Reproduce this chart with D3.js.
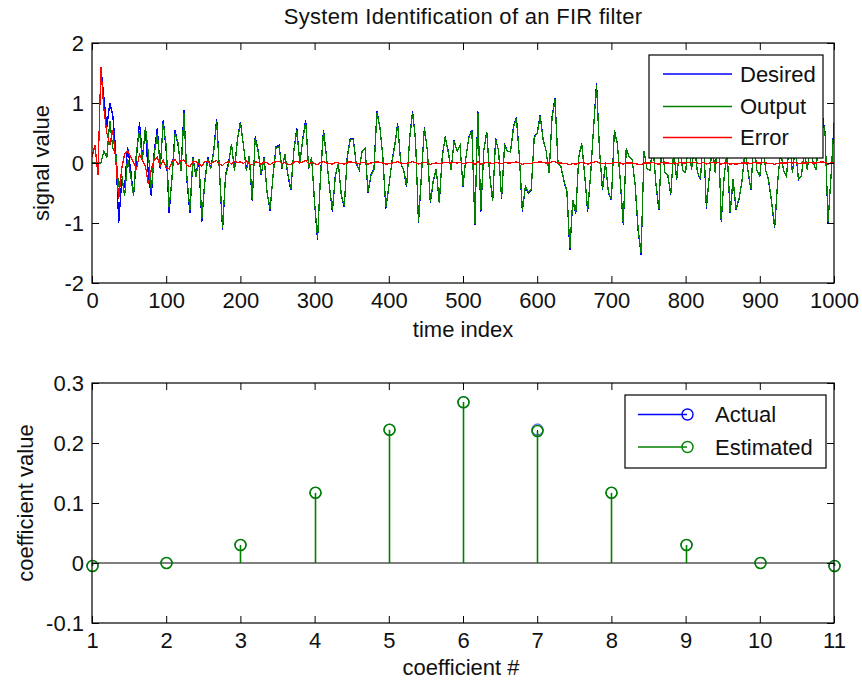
<!DOCTYPE html>
<html>
<head>
<meta charset="utf-8">
<script src="https://cdn.jsdelivr.net/npm/d3@7"></script>
<style>
  html, body { margin: 0; padding: 0; background: #fff; }
  svg { display: block; font-family: "Liberation Sans", Arial, sans-serif; }
  .tick text { font-size: 22px; fill: #111; }
  .tick line { stroke: #000; }
</style>
</head>
<body>
<svg id="chart" width="862" height="686"></svg>
<script>
// ---------------- DATA ----------------
const chartTitle = "System Identification of an FIR filter";
const timeStep = 4; // samples read every 4 time indices (0..1000)
const desired = [
  0.1, 0.3, -0.2, 1.6, 1.1, 0.6, 1.0, 0.8, 0.2, -1.0, -0.3, -0.4, 0.27, -0.1, -0.55, 0.1, 0.68, 0.1, 0.55, -0.2, -0.55, 0.2, 0.58, -0.1, 0.72,
  0.2, -0.84, -0.2, 0.55, 0.3, -0.1, 0.88, -0.3, -0.84, 0.1, -0.2, 0.05, -0.98, -0.3, 0.1, -0.1, 0.2, 0.74, -0.2, -1.12, -0.2, 0.0, 0.3, -0.1, 0.4,
  0.69, 0.3, -0.1, 0.1, -0.64, 0.44, 0.2, -0.2, 0.1, -0.5, -0.8, -0.2, 0.27, 0.3, -0.1, 0.15, -0.2, -0.45, 0.2, 0.58, 0.0, 0.4, 0.72, -0.1, 0.1,
  -0.67, -1.28, -0.2, 0.55, 0.1, -0.4, -0.81, -0.2, 0.0, -0.55, -0.73, 0.1, 0.41, 0.4, 0.0, -0.12, 0.2, 0.25, -0.5, -0.2, -0.1, 0.86, 0.6, 0.1, -0.76,
  -0.4, 0.0, 0.3, 0.66, 0.0, -0.12, -0.4, 0.4, 0.86, 0.4, -1.0, -0.2, 0.6, 0.2, -0.67, -0.3, -0.1, -0.67, 0.1, 0.44, 0.2, -0.12, 0.38, 0.2, 0.3,
  -0.4, 0.1, 0.44, 0.55, -1.03, 0.86, -0.81, 0.2, 0.52, -0.2, -0.64, 0.41, 0.2, -0.6, 0.3, 0.2, 0.18, 0.6, 0.77, 0.1, -0.81, -0.4, -0.5, -0.45, 0.44,
  0.5, 0.8, 0.4, 0.2, -0.17, 0.77, 1.08, 0.0, -0.06, -0.3, -0.48, -1.45, -0.62, -0.85, 0.1, 0.33, -0.2, -0.81, -0.2, 0.6, 1.33, 0.2, -0.45, 0.0, -0.5,
  -0.62, 0.55, 0.33, -0.3, -1.03, 0.24, 0.1, 0.05, -0.37, -1.12, -1.53, 0.2, -0.1, -0.12, 0.3, -0.35, -0.78, 0.4, -0.15, -0.2, -0.53, 0.2, -0.28, 0.3, -0.12,
  -0.16, 0.4, -0.12, 0.3, -0.16, -0.28, 0.5, -0.76, -0.22, 0.3, -0.17, 0.6, -0.98, -0.22, 0.2, -0.84, -0.28, -0.78, -0.6, -0.3, 0.2, -0.12, -0.45, 0.4, -0.12,
  -0.22, 0.3, -0.12, -0.3, -0.67, -1.09, -0.33, 0.2, -0.12, -0.22, 0.4, -0.17, 0.3, -0.28, -0.22, 0.2, -0.12, 0.3, 0.0, -0.12, 0.6, 0.83, 0.5, -1.0, -0.22,
  0.66
];
const errorSig = [
  0.1, 0.3, -0.2, 1.6, 0.9, 0.5, 0.3, 0.55, 0.05, -0.6, -0.1, 0.15, 0.2, 0.1, 0.0, -0.1, 0.15, 0.05, -0.05, -0.35, -0.1, 0.05, 0.1, -0.05, 0.05,
  -0.08, -0.1, 0.03, 0.06, -0.03, 0.04, 0.05, -0.04, -0.06, 0.02, 0.03, -0.02, -0.05, 0.02, 0.03, -0.01, 0.02, 0.04, -0.02, -0.04, 0.01, 0.02, -0.02, 0.03, 0.01,
  0.02, -0.01, 0.03, -0.02, -0.03, 0.02, 0.01, -0.02, 0.02, 0.0, -0.03, 0.01, 0.02, 0.03, -0.01, 0.01, -0.02, -0.02, 0.01, 0.03, 0.0, 0.02, 0.04, -0.01, 0.01,
  -0.01, -0.03, 0.01, 0.02, 0.0, -0.01, -0.02, 0.01, 0.0, -0.01, -0.02, 0.01, 0.02, 0.01, 0.0, -0.01, 0.01, 0.01, -0.02, 0.0, 0.01, 0.02, 0.01, 0.0, -0.02,
  -0.01, 0.0, 0.01, 0.02, 0.0, -0.01, -0.01, 0.01, 0.02, 0.01, -0.02, 0.0, 0.01, 0.0, -0.02, -0.01, 0.0, -0.01, 0.0, 0.01, 0.01, 0.0, 0.01, 0.0, 0.01,
  -0.01, 0.0, 0.01, 0.01, -0.02, 0.02, -0.02, 0.0, 0.01, 0.0, -0.01, 0.01, 0.0, -0.01, 0.01, 0.0, 0.0, 0.01, 0.02, 0.0, -0.02, -0.01, -0.01, -0.01, 0.01,
  0.01, 0.02, 0.01, 0.0, 0.0, 0.02, 0.02, 0.0, 0.0, -0.01, -0.01, -0.03, -0.01, -0.02, 0.0, 0.01, 0.0, -0.02, 0.0, 0.01, 0.03, 0.0, -0.01, 0.0, -0.01,
  -0.01, 0.01, 0.01, 0.0, -0.02, 0.0, 0.0, 0.0, -0.01, -0.02, -0.03, 0.0, 0.0, 0.0, 0.01, -0.01, -0.02, 0.01, 0.0, 0.0, -0.01, 0.0, -0.01, 0.01, 0.0,
  0.0, 0.01, 0.0, 0.01, 0.0, -0.01, 0.01, -0.02, 0.0, 0.01, 0.0, 0.01, -0.02, 0.0, 0.0, -0.02, -0.01, -0.02, -0.01, 0.0, 0.0, 0.0, -0.01, 0.01, 0.0,
  0.0, 0.01, 0.0, -0.01, -0.01, -0.02, -0.01, 0.0, 0.0, 0.0, 0.01, 0.0, 0.01, -0.01, 0.0, 0.0, 0.0, 0.01, 0.0, 0.0, 0.01, 0.02, 0.01, -0.02, 0.0,
  0.01
];
const topXTicks = [0, 100, 200, 300, 400, 500, 600, 700, 800, 900, 1000];
const topYTicks = [-2, -1, 0, 1, 2];
const topLegend = ["Desired", "Output", "Error"];

const coefIndex = [1, 2, 3, 4, 5, 6, 7, 8, 9, 10, 11];
const coefActual    = [-0.005, 0.0, 0.03, 0.117, 0.222, 0.268, 0.2225, 0.117, 0.03, 0.0, -0.005];
const coefEstimated = [-0.005, 0.0, 0.03, 0.117, 0.222, 0.268, 0.220, 0.117, 0.03, 0.0, -0.005];
const botXTicks = [1, 2, 3, 4, 5, 6, 7, 8, 9, 10, 11];
const botYTicks = [-0.1, 0, 0.1, 0.2, 0.3];
const botLegend = ["Actual", "Estimated"];

const colors = { desired: "#0000ff", output: "#008000", error: "#ff0000" };

// ---------------- DRAW ----------------
const svg = d3.select("#chart");
const FONT = 22;
const hyphen = s => String(s).replace("\u2212", "-");
const fmtInt = d => hyphen(d3.format("d")(d));
const fmtDec = d => d === 0 ? "0" : hyphen(d3.format(".1f")(d));

function frameAxes(g, x, y, xTicks, yTicks, xFmt, yFmt, x0, x1, y0, y1) {
  const TL = 7;
  g.append("g").attr("transform", `translate(0,${y0})`)
    .call(d3.axisBottom(x).tickValues(xTicks).tickSize(-TL).tickPadding(9).tickFormat(xFmt))
    .call(s => s.select(".domain").remove());
  g.append("g").attr("transform", `translate(0,${y1})`)
    .call(d3.axisTop(x).tickValues(xTicks).tickSize(-TL).tickFormat(""))
    .call(s => s.select(".domain").remove());
  g.append("g").attr("transform", `translate(${x0},0)`)
    .call(d3.axisLeft(y).tickValues(yTicks).tickSize(-TL).tickPadding(8).tickFormat(yFmt))
    .call(s => s.select(".domain").remove());
  g.append("g").attr("transform", `translate(${x1},0)`)
    .call(d3.axisRight(y).tickValues(yTicks).tickSize(-TL).tickFormat(""))
    .call(s => s.select(".domain").remove());
  g.selectAll(".tick line").attr("stroke", "#000").attr("stroke-width", 1);
  g.append("rect").attr("x", x0).attr("y", y1).attr("width", x1 - x0).attr("height", y0 - y1)
    .attr("fill", "none").attr("stroke", "#000").attr("stroke-width", 1.2);
}

// ===== Top panel =====
const T = { x0: 92, x1: 834, y0: 283, y1: 43 };
const xT = d3.scaleLinear().domain([0, 1000]).range([T.x0, T.x1]);
const yT = d3.scaleLinear().domain([-2, 2]).range([T.y0, T.y1]);

const tIdx = desired.map((_, i) => i * timeStep);
const output = desired.map((d, i) => +(d - errorSig[i]).toFixed(3));

svg.append("clipPath").attr("id", "clipTop").append("rect")
  .attr("x", T.x0).attr("y", T.y1).attr("width", T.x1 - T.x0).attr("height", T.y0 - T.y1);

const gTop = svg.append("g");
const lineT = d3.line().x((d, i) => xT(tIdx[i])).y(d => yT(d));
const series = [
  { vals: desired, color: colors.desired, w: 1.3 },
  { vals: output, color: colors.output, w: 1.3 },
  { vals: errorSig, color: colors.error, w: 1.3 }
];
const gLines = gTop.append("g").attr("clip-path", "url(#clipTop)");
series.forEach(s => {
  gLines.append("path").datum(s.vals).attr("d", lineT)
    .attr("fill", "none").attr("stroke", s.color).attr("stroke-width", s.w)
    .attr("shape-rendering", "crispEdges");
});

frameAxes(gTop, xT, yT, topXTicks, topYTicks, fmtInt, fmtInt, T.x0, T.x1, T.y0, T.y1);

gTop.append("text").attr("x", 463).attr("y", 24).attr("text-anchor", "middle")
  .attr("font-size", FONT).attr("letter-spacing", 0.3).attr("fill", "#111").text(chartTitle);
gTop.append("text").attr("x", 463).attr("y", 337).attr("text-anchor", "middle")
  .attr("font-size", FONT).attr("fill", "#111").text("time index");
gTop.append("text").attr("transform", `translate(49,${(T.y0 + T.y1) / 2}) rotate(-90)`)
  .attr("text-anchor", "middle").attr("font-size", FONT).attr("fill", "#111").text("signal value");

// legend top
const LT = { x: 649, y: 55, w: 174, h: 103 };
const gLegT = gTop.append("g");
gLegT.append("rect").attr("x", LT.x).attr("y", LT.y).attr("width", LT.w).attr("height", LT.h)
  .attr("fill", "#fff").attr("stroke", "#000").attr("stroke-width", 1.2);
const legRowsT = [74, 106.5, 137.5];
topLegend.forEach((name, i) => {
  const c = [colors.desired, colors.output, colors.error][i];
  gLegT.append("line").attr("x1", 663).attr("x2", 732).attr("y1", legRowsT[i]).attr("y2", legRowsT[i])
    .attr("stroke", c).attr("stroke-width", 1.5);
  gLegT.append("text").attr("x", 740).attr("y", legRowsT[i]).attr("dy", "0.36em")
    .attr("font-size", FONT).attr("fill", "#111").text(name);
});

// ===== Bottom panel =====
const B = { x0: 92, x1: 834, y0: 623, y1: 383 };
const xB = d3.scaleLinear().domain([1, 11]).range([B.x0, B.x1]);
const yB = d3.scaleLinear().domain([-0.1, 0.3]).range([B.y0, B.y1]);
const gBot = svg.append("g");

// baseline
gBot.append("line").attr("x1", xB(1)).attr("x2", xB(11)).attr("y1", yB(0)).attr("y2", yB(0))
  .attr("stroke", "#000").attr("stroke-width", 1.2);

const snap = v => Math.round(v) + 0.5;
function stems(vals, color, sw, cw, crisp) {
  const g = gBot.append("g");
  g.selectAll("line.stem").data(vals).join("line").attr("class", "stem")
    .attr("x1", (d, i) => snap(xB(coefIndex[i]))).attr("x2", (d, i) => snap(xB(coefIndex[i])))
    .attr("y1", yB(0)).attr("y2", d => yB(d))
    .attr("stroke", color).attr("stroke-width", sw)
    .attr("shape-rendering", crisp ? "crispEdges" : "auto");
  g.selectAll("circle").data(vals).join("circle")
    .attr("cx", (d, i) => snap(xB(coefIndex[i]))).attr("cy", d => yB(d)).attr("r", 5.5)
    .attr("fill", "none").attr("stroke", color).attr("stroke-width", cw);
}
stems(coefActual, colors.desired, 1, 0.8, true);
stems(coefEstimated, colors.output, 1.6, 1.6, false);

frameAxes(gBot, xB, yB, botXTicks, botYTicks, fmtInt, fmtDec, B.x0, B.x1, B.y0, B.y1);

gBot.append("text").attr("x", 461).attr("y", 675).attr("text-anchor", "middle")
  .attr("font-size", FONT).attr("fill", "#111").text("coefficient #");
gBot.append("text").attr("transform", `translate(33,${(B.y0 + B.y1) / 2}) rotate(-90)`)
  .attr("text-anchor", "middle").attr("font-size", FONT).attr("fill", "#111").text("coefficient value");

// legend bottom
const LB = { x: 625, y: 395, w: 201, h: 73 };
const gLegB = gBot.append("g");
gLegB.append("rect").attr("x", LB.x).attr("y", LB.y).attr("width", LB.w).attr("height", LB.h)
  .attr("fill", "#fff").attr("stroke", "#000").attr("stroke-width", 1.2);
const legRowsB = [414.5, 447];
botLegend.forEach((name, i) => {
  const c = [colors.desired, colors.output][i];
  gLegB.append("line").attr("x1", 638).attr("x2", 687).attr("y1", legRowsB[i]).attr("y2", legRowsB[i])
    .attr("stroke", c).attr("stroke-width", 1.5);
  gLegB.append("circle").attr("cx", 687.5).attr("cy", legRowsB[i]).attr("r", 5.5)
    .attr("fill", "none").attr("stroke", c).attr("stroke-width", 1.4);
  gLegB.append("text").attr("x", 715).attr("y", legRowsB[i]).attr("dy", "0.36em")
    .attr("font-size", FONT).attr("fill", "#111").text(name);
});
</script>
</body>
</html>
